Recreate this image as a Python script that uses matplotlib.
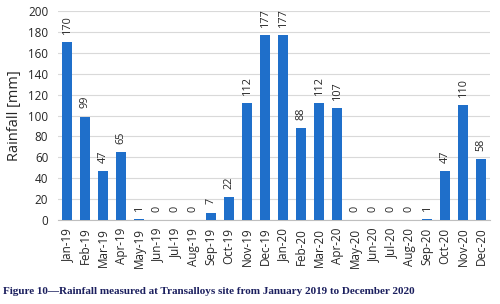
import matplotlib
matplotlib.use("Agg")
import matplotlib.pyplot as plt
import numpy as np

months = ["Jan-19","Feb-19","Mar-19","Apr-19","May-19","Jun-19","Jul-19","Aug-19","Sep-19","Oct-19","Nov-19","Dec-19",
          "Jan-20","Feb-20","Mar-20","Apr-20","May-20","Jun-20","Jul-20","Aug-20","Sep-20","Oct-20","Nov-20","Dec-20"]
rainfall = [170, 99, 47, 65, 1, 0, 0, 0, 7, 22, 112, 177,
            177, 88, 112, 107, 0, 0, 0, 0, 1, 47, 110, 58]
yticks = list(range(0, 201, 20))

plt.rcParams["font.family"] = ["Open Sans", "DejaVu Sans"]

fig = plt.figure(figsize=(5.0, 3.04), dpi=100)
ax = fig.add_axes([0.116, 0.276, 0.864, 0.688])
x = np.arange(len(months))
ax.bar(x, rainfall, width=0.55, color="#1f6fca", zorder=3)
for xi, v in zip(x, rainfall):
    ax.annotate(str(v), (xi, v), xytext=(0, 6), textcoords="offset points", rotation=90,
                ha="center", va="bottom", fontsize=7.8, color="#262626", annotation_clip=False)
ax.set_xlim(-0.5, len(months) - 0.5)
ax.set_ylim(0, 200)
ax.set_yticks(yticks)
ax.set_xticks(x)
ax.set_xticklabels(months, rotation=90, fontsize=8.4, color="#262626")
ax.tick_params(axis="y", labelsize=8.4, colors="#262626", length=0, pad=7)
ax.tick_params(axis="x", length=0, pad=5.5)
ax.yaxis.grid(True, color="#d9d9d9", linewidth=0.8, zorder=0)
for s in ["top", "right", "left"]:
    ax.spines[s].set_visible(False)
ax.spines["bottom"].set_color("#bfbfbf")
ax.set_ylabel("Rainfall [mm]", fontsize=10.5, color="#262626", labelpad=4)
fig.text(0.006, 0.04, "Figure 10\u2014Rainfall measured at Transalloys site from January 2019 to December 2020",
         fontsize=8.0, fontweight="bold", family="Liberation Serif", color="#1b1f5e", ha="left", va="center")
fig.savefig("out.png", dpi=100)
